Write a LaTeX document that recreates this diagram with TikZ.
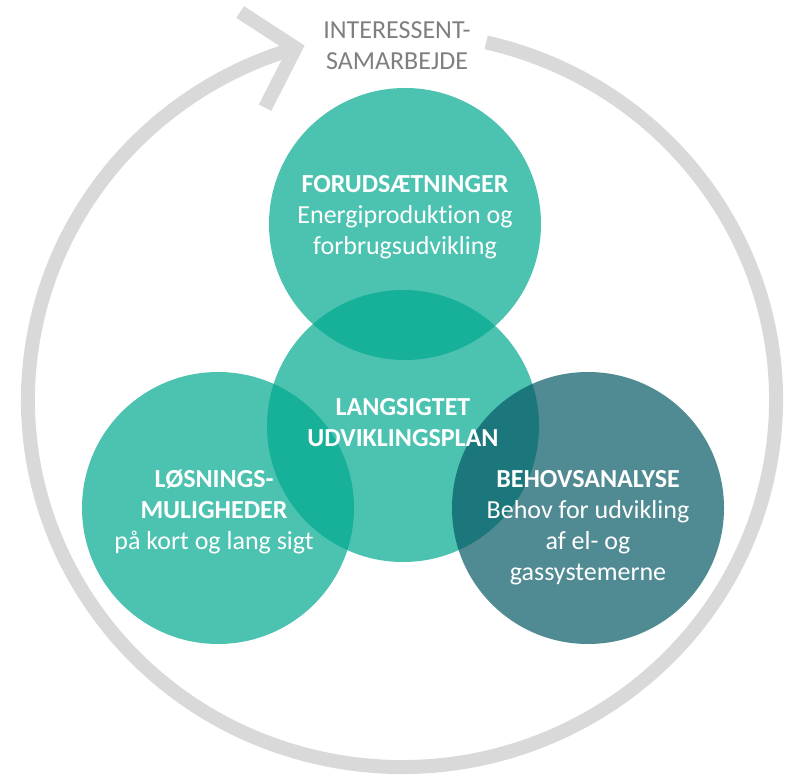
\documentclass[tikz,border=0pt]{standalone}
\usepackage{fontspec}
\setmainfont{Carlito}[Ligatures=NoCommon]
\usetikzlibrary{positioning}
\definecolor{planteal}{HTML}{00A88F}
\definecolor{plandark}{HTML}{065865}
\definecolor{ringgray}{HTML}{D9D9D9}
\definecolor{labelgray}{HTML}{7F7F7F}
\tikzset{
  bubble/.style={circle, minimum size=272pt, inner sep=0pt, fill opacity=0.7},
  ring/.style={line width=14pt, color=ringgray},
  bubtext/.style={text=white, align=center, inner sep=0pt, font=\fontsize{26}{31}\selectfont},
}

\begin{document}
\begin{tikzpicture}[x=1pt, y=1pt]
	%%%%% START %%%%%
	\useasboundingbox (0, 0) rectangle (791, 774);
	
	% ring with open arrow
	\coordinate (ringc) at (402, 374);
	\coordinate (vtx) at (295.5, 726);
	\draw[ring] ([shift={(77:374 and 367)}]ringc) arc[start angle=77, end angle=-253.5, x radius=374, y radius=367];
	\draw[ring, line join=miter] (vtx) ++(147:66) -- (vtx) -- ++(243:67);
	
	\node[text=labelgray, align=center, inner sep=0pt, font=\fontsize{26}{31}\selectfont] (interessent) at (397, 728.5) {INTERESSENT-\\SAMARBEJDE};
	
	% circles
	\node[bubble, fill=planteal] (forud) at (405, 550) {};
	\node[bubble, fill=planteal] (langsigt) at (403, 348) {};
	\node[bubble, fill=planteal] (loesning) at (218, 266) {};
	\node[bubble, fill=plandark] (behov) at (588, 266) {};
	
	% texts
	\node[bubtext] (forudtxt) at ([yshift=7pt]forud.center) {\textbf{FORUDSÆTNINGER}\\Energiproduktion og\\forbrugsudvikling};
	\node[bubtext, font=\fontsize{26}{31}\selectfont\bfseries] (langsigttxt) at ([yshift=3.5pt]langsigt.center) {LANGSIGTET\\UDVIKLINGSPLAN};
	\node[bubtext] (loesningtxt) at ([shift={(-4pt,-4pt)}]loesning.center) {\textbf{LØSNINGS-}\\\textbf{MULIGHEDER}\\på kort og lang sigt};
	\node[bubtext] (behovtxt) at ([yshift=-20pt]behov.center) {\textbf{BEHOVSANALYSE}\\Behov for udvikling\\af el- og\\gassystemerne};
	
	%%%%% END %%%%%
\end{tikzpicture}
\end{document}
